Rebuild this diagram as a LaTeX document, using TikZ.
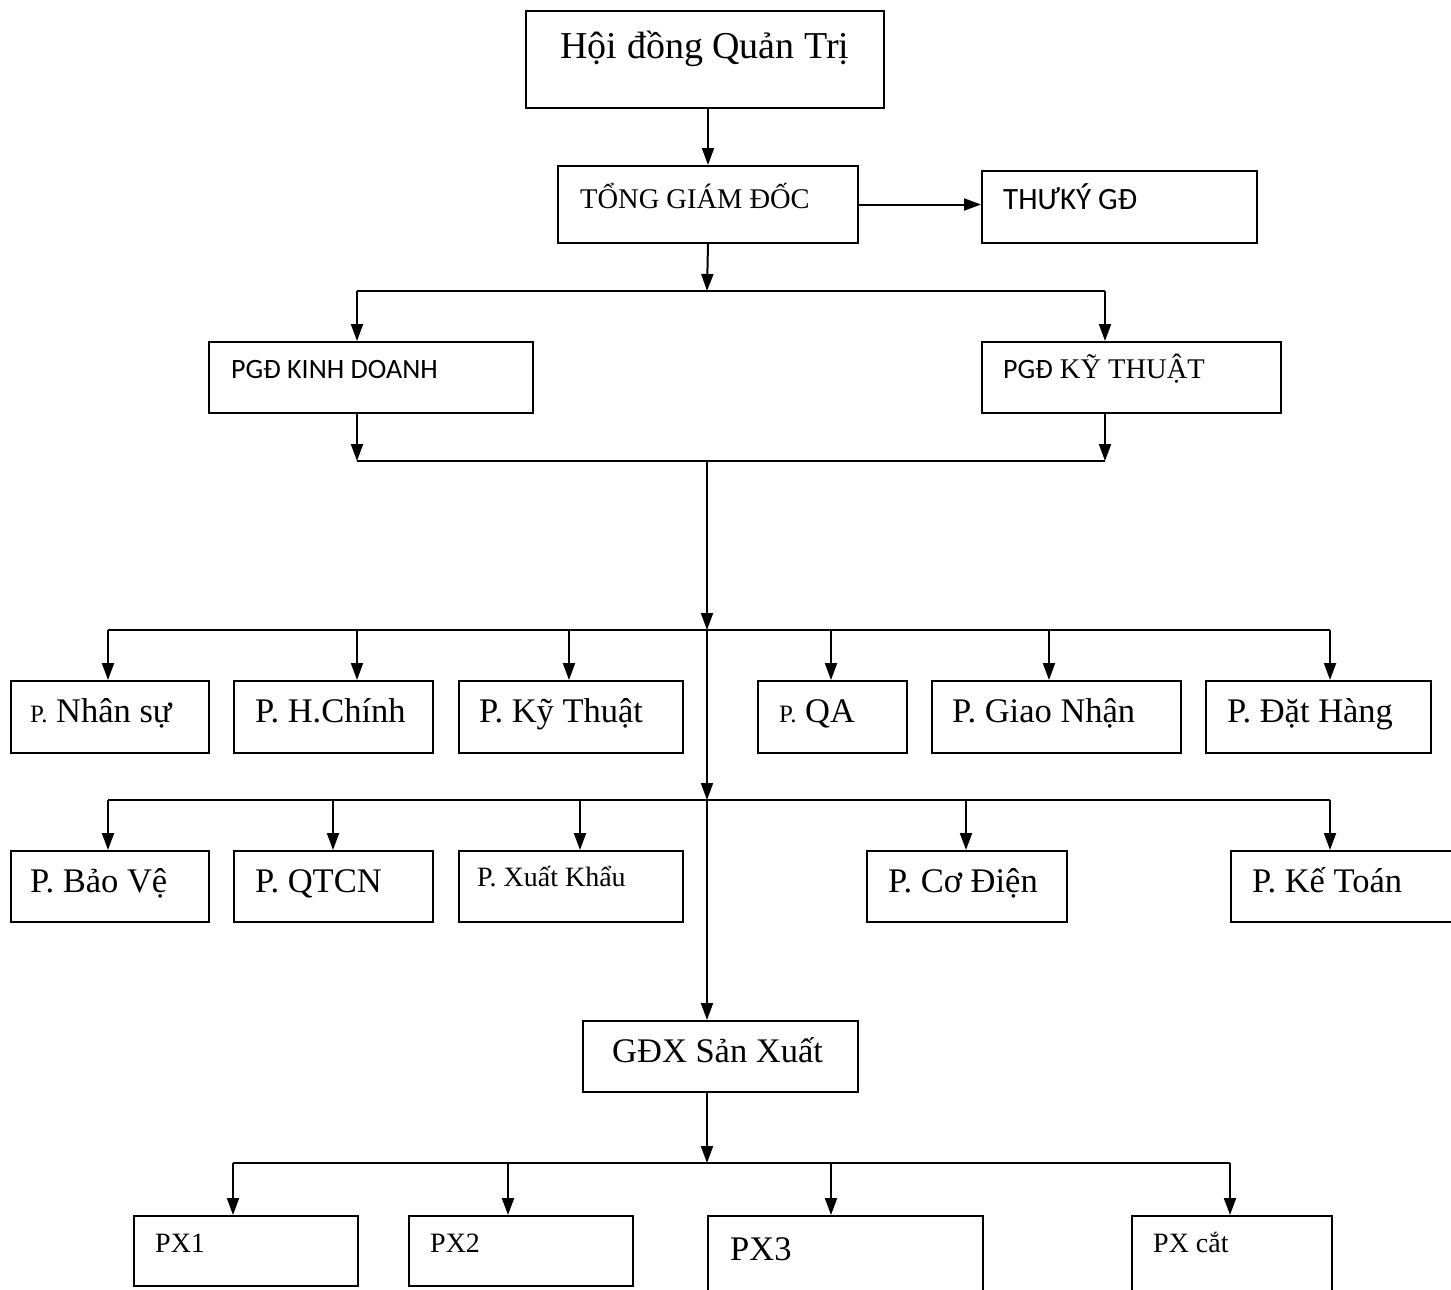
\documentclass[tikz,border=0pt]{standalone}
\usepackage{fontspec}
\setmainfont{Liberation Serif}
\newfontfamily\calibri{Carlito}
\usetikzlibrary{arrows.meta,positioning,calc}

\begin{document}
\begin{tikzpicture}[x=1pt, y=-1pt,
  bx/.style={draw, line width=2pt, rectangle, anchor=north west, inner sep=0pt},
  tx/.style={anchor=base west, inner sep=0pt},
  arr/.style={-{Triangle[length=17pt,width=12pt]}, line width=2pt},
  bus/.style={line width=2.6pt},
  fhuge/.style={font=\fontsize{38}{44}\selectfont},
  fbig/.style={font=\fontsize{34.5}{40}\selectfont},
  fmid/.style={font=\fontsize{28.5}{33}\selectfont},
  fsml/.style={font=\fontsize{28}{32}\selectfont},
  fsans/.style={font=\calibri\fontsize{28}{32}\selectfont}
]
\useasboundingbox (0,0) rectangle (1451,1290);

% ─── Top: board, CEO, secretary ───
\node[bx, minimum width=358, minimum height=97] (hdqt) at (525,10) {};
\node[fhuge, anchor=base, inner sep=0pt] (t-hdqt) at (705,59) {Hội đồng Quản Trị};

\node[bx, minimum width=300, minimum height=77] (tgd) at (557,165) {};
\node[tx, fmid] (t-tgd) at (580,208) {TỔNG GIÁM ĐỐC};

\node[bx, minimum width=275, minimum height=72] (tk) at (981,170) {};
\node[tx, font=\calibri\fontsize{31}{35}\selectfont] (t-tk) at (1003,209) {THƯKÝ GĐ};

% ─── Deputy directors ───
\node[bx, minimum width=324, minimum height=71] (kd) at (208,341) {};
\node[tx, fsans] (t-kd) at (231,378) {PGĐ KINH DOANH};

\node[bx, minimum width=299, minimum height=71] (kt) at (981,341) {};
\node[tx, fmid] (t-kt) at (1003,378) {{\calibri\fontsize{28}{32}\selectfont PGĐ} KỸ THUẬT};

% ─── Departments, row 1 ───
\node[bx, minimum width=198, minimum height=72] (ns) at (10,680)   {};
\node[bx, minimum width=199, minimum height=72] (hc) at (233,680)  {};
\node[bx, minimum width=224, minimum height=72] (ky) at (458,680)  {};
\node[bx, minimum width=149, minimum height=72] (qa) at (757,680)  {};
\node[bx, minimum width=249, minimum height=72] (gn) at (931,680)  {};
\node[bx, minimum width=225, minimum height=72] (dh) at (1205,680) {};

\node[tx, fbig] (t-ns) at (30,722)   {{\fontsize{25}{29}\selectfont P.} Nhân sự};
\node[tx, fbig] (t-hc) at (255,722)  {P. H.Chính};
\node[tx, fbig] (t-ky) at (479,722)  {P. Kỹ Thuật};
\node[tx, fbig] (t-qa) at (779,722)  {{\fontsize{25}{29}\selectfont P.} QA};
\node[tx, fbig] (t-gn) at (952,722)  {P. Giao Nhận};
\node[tx, fbig] (t-dh) at (1227,722) {P. Đặt Hàng};

% ─── Departments, row 2 ───
\node[bx, minimum width=198, minimum height=71] (bv)  at (10,850)   {};
\node[bx, minimum width=199, minimum height=71] (qt)  at (233,850)  {};
\node[bx, minimum width=224, minimum height=71] (xk)  at (458,850)  {};
\node[bx, minimum width=200, minimum height=71] (cd)  at (866,850)  {};
\node[bx, minimum width=260, minimum height=71] (kto) at (1230,850) {};

\node[tx, fbig] (t-bv)  at (30,892)   {P. Bảo Vệ};
\node[tx, fbig] (t-qt)  at (255,892)  {P. QTCN};
\node[tx, fsml] (t-xk)  at (477,886)  {P. Xuất Khẩu};
\node[tx, fbig] (t-cd)  at (888,892)  {P. Cơ Điện};
\node[tx, fbig] (t-kto) at (1252,892) {P. Kế Toán};

% ─── Production ───
\node[bx, minimum width=275, minimum height=71] (gdx) at (582,1020) {};
\node[tx, fbig] (t-gdx) at (612,1062) {GĐX Sản Xuất};

\node[bx, minimum width=224, minimum height=70]  (px1) at (133,1215)  {};
\node[bx, minimum width=224, minimum height=70]  (px2) at (408,1215)  {};
\node[bx, minimum width=275, minimum height=110] (px3) at (707,1215)  {};
\node[bx, minimum width=200, minimum height=110] (pxc) at (1131,1215) {};

\node[tx, fsml] (t-px1) at (155,1252)  {PX1};
\node[tx, fsml] (t-px2) at (430,1252)  {PX2};
\node[tx, fbig] (t-px3) at (730,1260)  {PX3};
\node[tx, fsml] (t-pxc) at (1153,1252) {PX cắt};

% ─── Junctions on the trunk ───
\coordinate (j1) at (707,291);
\coordinate (j2) at (707,461);
\coordinate (j3) at (707,630);
\coordinate (j4) at (707,800);
\coordinate (j5) at (707,1163);
\coordinate (b1l) at (357,291);  \coordinate (b1r) at (1105,291);
\coordinate (b2l) at (357,461);  \coordinate (b2r) at (1105,461);

% ─── Top connectors ───
\draw[arr] (tgd.north |- hdqt.south) -- (tgd.north);
\draw[arr] (tgd.east) -- (tgd.east -| tk.west);
\draw[arr] (tgd.south) -- (j1);
\draw[bus] (b1l) -- (b1r);
\draw[arr] (b1l) -- (b1l |- kd.north);
\draw[arr] (b1r) -- (b1r |- kt.north);
\draw[arr] (b2l |- kd.south) -- (b2l);
\draw[arr] (b2r |- kt.south) -- (b2r);
\draw[bus] (b2l) -- (b2r);

% ─── Trunk ───
\draw[arr] (j2) -- (j3);
\draw[arr] (j3) -- (j4);
\draw[arr] (j4) -- (j4 |- gdx.north);
\draw[arr] (j5 |- gdx.south) -- (j5);

% ─── Row buses ───
\foreach \x/\b in {108/ns,357/hc,569/ky,831/qa,1049/gn,1330/dh}{
  \coordinate (r1\b) at (\x,630);
  \draw[arr] (r1\b) -- (r1\b |- \b.north);
}
\draw[bus] (r1ns) -- (r1dh);

\foreach \x/\b in {108/bv,333/qt,580/xk,966/cd,1330/kto}{
  \coordinate (r2\b) at (\x,800);
  \draw[arr] (r2\b) -- (r2\b |- \b.north);
}
\draw[bus] (r2bv) -- (r2kto);

\foreach \x/\b in {233/px1,508/px2,831/px3,1230/pxc}{
  \coordinate (r3\b) at (\x,1163);
  \draw[arr] (r3\b) -- (r3\b |- \b.north);
}
\draw[bus] (r3px1) -- (r3pxc);

\end{tikzpicture}
\end{document}
